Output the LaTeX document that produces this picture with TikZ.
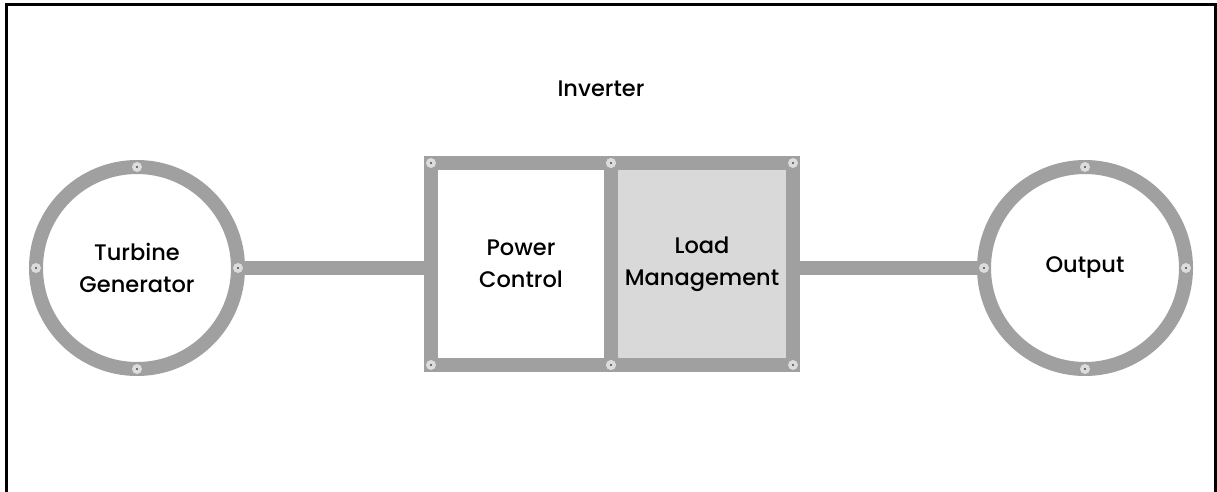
\documentclass[tikz,border=0pt]{standalone}
\usepackage{fontspec}
\setmainfont{Poppins}[UprightFont=* Medium]
\usetikzlibrary{positioning,calc}
\definecolor{ringgrey}{HTML}{A0A0A0}
\definecolor{dotgrey}{HTML}{DCDCDC}
\definecolor{loadfill}{HTML}{D9D9D9}
\tikzset{
  unit/.style       = {draw=ringgrey, line width=14pt, circle, fill=white, outer sep=0pt,
                       minimum size=202pt, inner sep=0pt, align=center},
  stage/.style      = {draw=ringgrey, line width=14pt, fill=white, outer sep=0pt,
                       minimum height=202pt, inner sep=0pt, align=center},
  link/.style       = {draw=ringgrey, line width=14pt},
  pindot/.style     = {circle, fill=dotgrey, minimum size=10pt, inner sep=0pt,
                       path picture={\fill[black] (path picture bounding box.center) circle (0.9pt);}},
  frame/.style      = {line width=3pt, black},
  every node/.style = {font=\fontsize{22.5}{32}\selectfont},
}
\begin{document}
\begin{tikzpicture}[x=1pt,y=-1pt]
  \useasboundingbox (0,0) rectangle (1217,492);
  % outer frame, open at the bottom
  \draw[frame] (6,495) -- (6,5) -- (1215,5) -- (1215,495);
  \node (title) at (601,89) {Inverter};
  % the two sources / sinks
  \node[unit] (gen) at (137,268) {Turbine\\Generator};
  \node[unit] (out) at (1085,268) {Output};
  % inverter stages
  \node[stage, minimum width=180pt] (power) at (521,264) {Power\\Control};
  \node[stage, minimum width=182pt, fill=loadfill] (load) at (702,264) {Load\\Management};
  % connectors
  \draw[link] (gen.east) -- (gen.east -| power.west);
  \draw[link] (load.east |- out.west) -- (out.west);
  % pins on the rings and corners
  \foreach \a/\n in {north/n,south/s,east/e,west/w} {
    \node[pindot] (gen-\n) at (gen.\a) {};
    \node[pindot] (out-\n) at (out.\a) {};
  }
  \foreach \a/\n in {north west/nw,south west/sw,north east/ne,south east/se} {
    \node[pindot] (power-\n) at (power.\a) {};
    \node[pindot] (load-\n) at (load.\a) {};
  }
\end{tikzpicture}
\end{document}
